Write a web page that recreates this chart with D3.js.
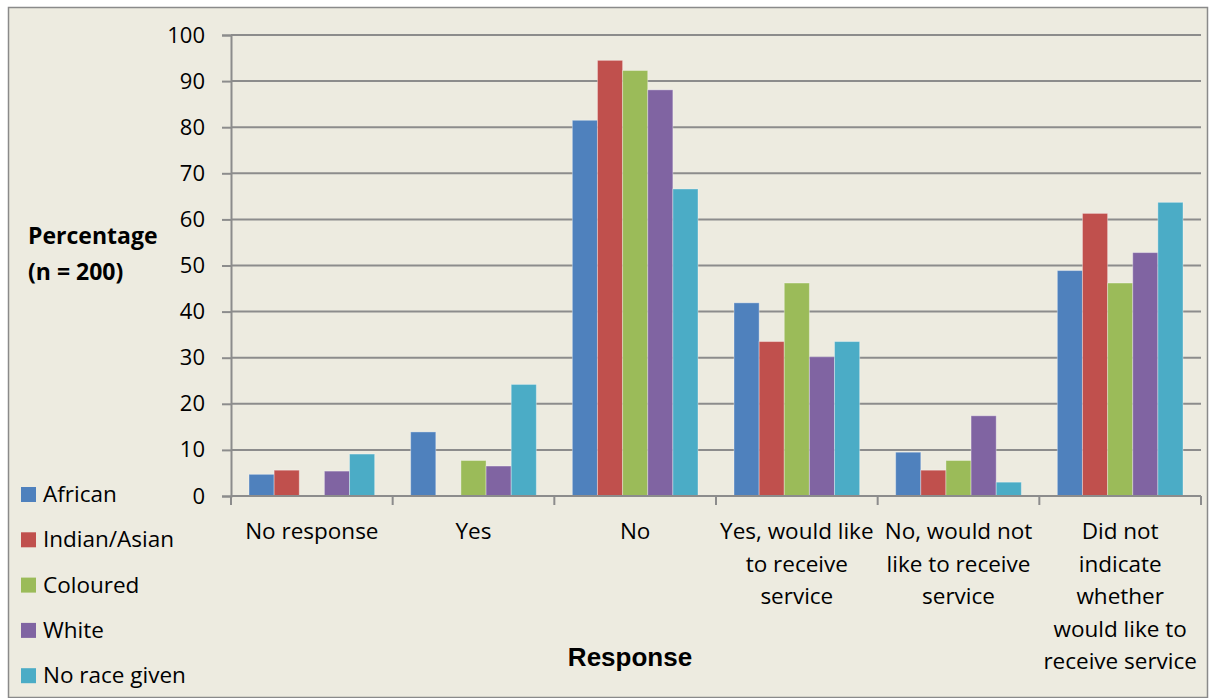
<!DOCTYPE html>
<html>
<head>
<meta charset="utf-8">
<script src="https://cdn.jsdelivr.net/npm/d3@7"></script>
<style>
  body { margin: 0; background: #fff; }
  svg text { font-family: "Open Sans", Lato, sans-serif; fill: #000; }
</style>
</head>
<body>
<div id="chart"></div>
<script>
'use strict';

// chart data
var categories = [
  ["No response"],
  ["Yes"],
  ["No"],
  ["Yes, would like", "to receive", "service"],
  ["No, would not", "like to receive", "service"],
  ["Did not", "indicate", "whether", "would like to", "receive service"]
];
var seriesNames = ["African", "Indian/Asian", "Coloured", "White", "No race given"];
var african     = [4.7, 13.9, 81.5, 41.9, 9.5, 48.9];
var indianAsian = [5.6, 0, 94.5, 33.5, 5.6, 61.3];
var coloured    = [0, 7.7, 92.3, 46.2, 7.7, 46.2];
var white       = [5.4, 6.5, 88.1, 30.2, 17.4, 52.8];
var noRace      = [9.1, 24.2, 66.6, 33.5, 3.0, 63.7];
var yTicks = [0, 10, 20, 30, 40, 50, 60, 70, 80, 90, 100];

var colors = ["#4F81BD", "#C0504D", "#9BBB59", "#8064A2", "#4BACC6"];
var series = [african, indianAsian, coloured, white, noRace];

var W = 1209, H = 698;
var svg = d3.select("#chart").append("svg")
  .attr("width", W)
  .attr("height", H);

// background + border
svg.append("rect")
  .attr("x", 8.5).attr("y", 7.5)
  .attr("width", W - 10).attr("height", H - 8)
  .attr("fill", "#EDEBE0")
  .attr("stroke", "#8a8a8a")
  .attr("stroke-width", 1.5);

var plotLeft = 231, plotRight = 1201, plotTop = 35, plotBottom = 496;

var y = d3.scaleLinear().domain([0, 100]).range([plotBottom, plotTop]);
var x0 = d3.scaleBand().domain(d3.range(categories.length)).range([plotLeft, plotRight]);
var x1 = d3.scaleBand().domain(d3.range(seriesNames.length))
  .range([18, x0.bandwidth() - 18]);

// gridlines
svg.append("g")
  .selectAll("line")
  .data(yTicks.filter(d => d > 0))
  .enter().append("line")
  .attr("x1", plotLeft).attr("x2", plotRight)
  .attr("y1", d => y(d)).attr("y2", d => y(d))
  .attr("stroke", "#8c8c8c")
  .attr("stroke-width", 2);

// y axis
var yAxis = svg.append("g")
  .attr("transform", "translate(" + plotLeft + ",0)")
  .call(d3.axisLeft(y).tickValues(yTicks).tickSize(9).tickPadding(17));
yAxis.select(".domain").attr("stroke", "#8c8c8c").attr("stroke-width", 2);
yAxis.selectAll(".tick line").attr("stroke", "#8c8c8c").attr("stroke-width", 2);
yAxis.selectAll(".tick text")
  .style("font-size", "22px")
  .style("font-family", "'Open Sans', sans-serif");

// bars
var groups = svg.append("g").selectAll("g")
  .data(categories)
  .enter().append("g")
  .attr("transform", (d, i) => "translate(" + x0(i) + ",0)");

groups.selectAll("rect")
  .data((d, i) => series.map((s, k) => ({k: k, v: s[i]})).filter(d => d.v > 0))
  .enter().append("rect")
  .attr("x", d => x1(d.k))
  .attr("width", x1.bandwidth())
  .attr("y", d => y(d.v))
  .attr("height", d => plotBottom - y(d.v))
  .attr("fill", d => colors[d.k])
  .attr("stroke", "rgba(255,255,255,0.35)")
  .attr("stroke-width", 1);

// x axis line and category ticks
svg.append("line")
  .attr("x1", plotLeft).attr("x2", plotRight)
  .attr("y1", plotBottom).attr("y2", plotBottom)
  .attr("stroke", "#8c8c8c").attr("stroke-width", 2);

svg.append("g").selectAll("line")
  .data(d3.range(categories.length + 1))
  .enter().append("line")
  .attr("x1", i => plotLeft + i * x0.bandwidth())
  .attr("x2", i => plotLeft + i * x0.bandwidth())
  .attr("y1", plotBottom).attr("y2", plotBottom + 9)
  .attr("stroke", "#8c8c8c").attr("stroke-width", 2);

// category labels
groups.append("text")
  .attr("text-anchor", "middle")
  .style("font-size", "22.5px")
  .selectAll("tspan")
  .data(d => d)
  .enter().append("tspan")
  .attr("x", x0.bandwidth() / 2)
  .attr("y", (d, i) => 539 + i * 32.5)
  .text(d => d);

// y title
svg.append("text")
  .attr("x", 28).attr("y", 244)
  .style("font-size", "23px").style("font-weight", "bold")
  .text("Percentage");
svg.append("text")
  .attr("x", 28).attr("y", 280)
  .style("font-size", "23px").style("font-weight", "bold")
  .text("(n = 200)");

// x title
svg.append("text")
  .attr("x", 630).attr("y", 666)
  .attr("text-anchor", "middle")
  .style("font-family", "Liberation Sans, Arial, sans-serif")
  .style("font-size", "26px").style("font-weight", "bold")
  .text("Response");

// legend
var legend = svg.append("g").selectAll("g")
  .data(seriesNames)
  .enter().append("g")
  .attr("transform", (d, i) => "translate(21," + (494 + i * 45.3) + ")");
legend.append("rect")
  .attr("x", 0).attr("y", -7)
  .attr("width", 15).attr("height", 15)
  .attr("fill", (d, i) => colors[i]);
legend.append("text")
  .attr("x", 22).attr("y", 8)
  .style("font-size", "22.5px")
  .text(d => d);
</script>
</body>
</html>
